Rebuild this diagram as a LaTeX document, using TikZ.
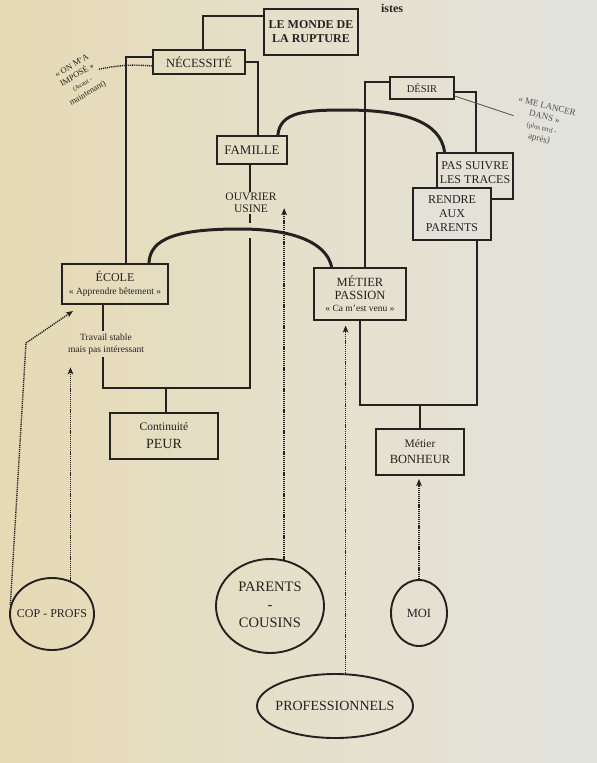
\documentclass[tikz,border=0pt]{standalone}
\usepackage{fontspec}
\setmainfont{Liberation Serif}
\usetikzlibrary{arrows.meta,shapes.geometric,calc}
\definecolor{ink}{HTML}{242220}
\definecolor{pageL}{HTML}{E6DAB4}
\definecolor{pageM}{HTML}{E5E0CB}
\definecolor{pageR}{HTML}{E2E3DD}
\newcommand{\myfs}[2]{\fontsize{#1}{#2}\selectfont}
\begin{document}
\begin{tikzpicture}[x=1pt,y=-1pt]
\tikzset{
  bx/.style={draw=ink,line width=1.7pt,align=center,text=ink,inner sep=0pt},
  thickbox/.style={line width=2.9pt},
  txt/.style={text=ink,align=center,inner sep=1pt},
  wire/.style={draw=ink,line width=1.7pt},
  arcl/.style={draw=ink,line width=3pt,line cap=round},
  dotline/.style={draw=ink,line width=1.4pt,dash pattern=on 1.2pt off 0.9pt},
  darr/.style={-{Stealth[length=7pt,width=5.5pt,inset=1.5pt]}},
  oval/.style={draw=ink,line width=1.9pt,ellipse,inner sep=0pt,text=ink},
}
\shade[left color=pageL,right color=pageR,middle color=pageM] (0,0) rectangle (597,763);
\useasboundingbox (0,0) rectangle (597,763);

% cropped page heading
\node[txt,anchor=base,font=\bfseries\myfs{12}{14}] (hdr) at (392,12) {istes};

% boxes
\node[bx,minimum width=94pt,minimum height=46pt,font=\bfseries\myfs{12}{14}] (monde) at (311,32) {LE MONDE DE\\LA RUPTURE};
\node[bx,line width=1.5pt,minimum width=92pt,minimum height=24pt,font=\myfs{12.5}{14}] (necess) at (199,62) {NÉCESSITÉ};
\node[bx,minimum width=70pt,minimum height=28pt,font=\myfs{13}{14}] (famille) at (252,150) {FAMILLE};
\node[txt,font=\myfs{11.5}{12}] (ouvrier) at (251,203) {OUVRIER\\USINE};
\node[bx,line width=1.9pt,minimum width=106pt,minimum height=40pt,font=\myfs{12}{13}] (ecole) at (115,284) {ÉCOLE\\\myfs{9.5}{12}« Apprendre bêtement »};
\node[txt,inner sep=3pt,font=\myfs{9.5}{11.5}] (travail) at (106,344) {Travail stable\\mais pas intéressant};
\node[bx,line width=1.9pt,minimum width=108pt,minimum height=46pt,font=\myfs{11.5}{18}] (peur) at (164,436) {Continuité\\\myfs{14}{18}PEUR};
\node[bx,line width=1.4pt,minimum width=64pt,minimum height=22pt,font=\myfs{10.5}{12}] (desir) at (422,88) {DÉSIR};
\node[bx,thickbox,minimum width=76pt,minimum height=46pt] (pas) at (475,176) {};
\node[txt,font=\myfs{12}{14}] (pastext) at (475,173) {PAS SUIVRE\\LES TRACES};
\node[bx,thickbox,fill=pageR!70!pageM,minimum width=78pt,minimum height=52pt,font=\myfs{12}{14}] (rendre) at (452,214) {RENDRE\\AUX\\PARENTS};
\node[bx,thickbox,minimum width=92pt,minimum height=52pt,font=\myfs{12.5}{12.5}] (passion) at (360,294) {MÉTIER\\PASSION\\\myfs{9.5}{13}« Ca m'est venu »};
\node[bx,line width=1.9pt,minimum width=88pt,minimum height=46pt,font=\myfs{11.5}{16}] (bonheur) at (420,452) {Métier\\\myfs{12.5}{16}BONHEUR};

% annotations
\node[txt,rotate=30,font=\myfs{8.5}{10.5}] (onma) at (80,80) {« ON M'A\\IMPOSÉ »\\\myfs{6.5}{9}(Avant -\\maintenant)};
\node[txt,rotate=-14,text=ink!80,font=\myfs{9}{11}] (lancer) at (543,123) {« ME LANCER\\DANS »\\\myfs{7}{9.5}(plus tard -\\après)};

% ellipses
\node[oval,minimum width=84pt,minimum height=72pt] (cop) at (52,614) {\makebox[0pt]{\myfs{12}{14}COP - PROFS}};
\node[oval,minimum width=108pt,minimum height=94pt] (parents) at (270,606) {\makebox[0pt]{\myfs{14.5}{18}\begin{tabular}{@{}c@{}}PARENTS\\-\\COUSINS\end{tabular}}};
\node[oval,minimum width=56pt,minimum height=66pt] (moi) at (419,613) {\makebox[0pt]{\myfs{12.5}{14}MOI}};
\node[oval,minimum width=156pt,minimum height=64pt] (prof) at (335,706) {\makebox[0pt]{\myfs{14}{16}PROFESSIONNELS}};

% tree lines
\draw[wire] (monde.west |- 0,16) -- (203,16) -- (necess.north -| 203,0);
\draw[wire] (necess.west |- 0,57) -- (126,57) -- (ecole.north -| 126,0);
\draw[wire] (necess.east) -- (258,62) -- (famille.north -| 258,0);
\draw[wire] (famille.south -| 250,0) -- (ouvrier.north -| 250,0);
\draw[wire] (ouvrier.south -| 250,0) -- (250,223);
\draw[wire] (250,238) -- (250,388) -- (103,388) -- (travail.south -| 103,0);
\draw[wire] (ecole.south -| 103,0) -- (travail.north -| 103,0);
\draw[wire] (166,388) -- (peur.north -| 166,0);
\draw[wire] (desir.west |- 0,82) -- (365,82) -- (passion.north -| 365,0);
\draw[wire] (desir.east |- 0,92) -- (476,92) -- (pas.north -| 476,0);
\draw[wire] (rendre.south -| 477,0) -- (477,405) -- (360,405) -- (passion.south -| 360,0);
\draw[wire] (420,405) -- (bonheur.north -| 420,0);

% thick arcs
\draw[arcl] ([xshift=-20pt]ecole.north east) .. controls (150,238) and (178,229) .. (240,229) .. controls (292,229) and (326,242) .. ([xshift=19pt]passion.north west);
\draw[arcl] ([xshift=-10pt]famille.north east) .. controls (280,112) and (305,110) .. (345,110) .. controls (405,110) and (440,122) .. ([xshift=9pt]pas.north west);

% annotation links
\draw[dotline] (necess.west |- 0,66) to[bend right=8] (onma.east);
\draw[ink!80,line width=0.8pt] (desir.east |- 0,96) -- (lancer.west);

% dotted arrows
\draw[dotline,darr] (cop.168) -- (26,343) -- ($(ecole.south west)+(12,6)$);
\draw[dotline,darr] (cop.61) -- ($(travail.south -| cop.61)+(0,10)$);
\draw[dotline,darr] (parents.73) -- ($(parents.73 |- ouvrier.south)+(0,-6)$);
\draw[dotline,darr] (prof.72) -- ($(prof.72 |- passion.south)+(0,4)$);
\draw[dotline,darr] (moi.north) -- ($(moi.north |- bonheur.south)+(0,3)$);
\end{tikzpicture}
\end{document}
